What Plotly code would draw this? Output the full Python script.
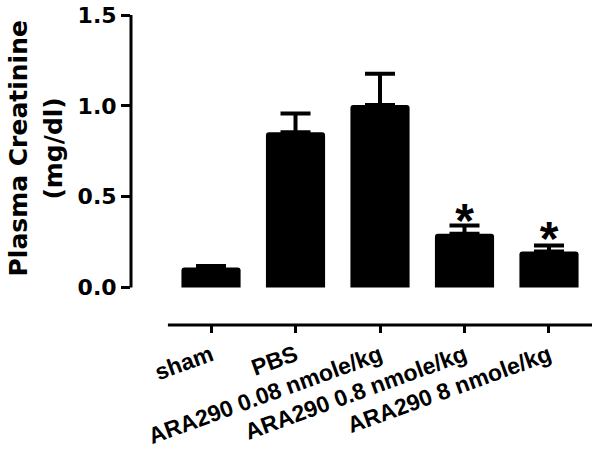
import plotly.graph_objects as go

categories = ["sham", "PBS", "ARA290 0.08 nmole/kg", "ARA290 0.8 nmole/kg", "ARA290 8 nmole/kg"]
means = [0.11, 0.855, 1.005, 0.296, 0.198]
sem = [0.008, 0.103, 0.172, 0.045, 0.033]
sig_labels = ["", "", "", "*", "*"]
sig_y = [None, None, None, 0.345, 0.246]
y_ticks = [0.0, 0.5, 1.0, 1.5]
y_ticklabels = ["0.0", "0.5", "1.0", "1.5"]

idx = list(range(len(categories)))

fig = go.Figure()
fig.add_trace(go.Bar(
    x=idx, y=means, width=0.70,
    marker=dict(color="black", line=dict(width=0), cornerradius=3),
    error_y=dict(type="data", array=sem, arrayminus=[0]*len(sem), symmetric=False,
                 color="black", thickness=4, width=15),
    showlegend=False,
))

sx = [i for i, s in zip(idx, sig_labels) if s]
sy = [v for v, s in zip(sig_y, sig_labels) if s]
st = [s for s in sig_labels if s]
fig.add_trace(go.Scatter(
    x=sx, y=sy, mode="text", text=st, textposition="middle center",
    textfont=dict(family="Liberation Sans", size=48, color="black", weight="bold"),
    showlegend=False, hoverinfo="skip",
))

fig.update_layout(
    width=602, height=450,
    margin=dict(l=131, r=10, t=15, b=125),
    paper_bgcolor="white", plot_bgcolor="white",
    xaxis=dict(range=[-0.947, 4.509], tickmode="array", tickvals=idx, ticktext=categories,
               tickangle=-20, ticks="outside", ticklen=7, tickwidth=3, tickcolor="black",
               showline=False, showgrid=False, zeroline=False, automargin=False,
               tickfont=dict(family="Liberation Sans", size=23, color="black", weight="bold")),
    yaxis=dict(range=[-0.2064, 1.5], tickmode="array", tickvals=y_ticks, ticktext=y_ticklabels,
               ticks="outside", ticklen=9, tickwidth=3, tickcolor="black",
               showline=False, showgrid=False, zeroline=False, automargin=False,
               tickfont=dict(family="DejaVu Sans", size=22, color="black", weight="bold")),
    shapes=[
        dict(type="line", xref="paper", yref="y", x0=0, x1=0, y0=0, y1=1.5,
             line=dict(color="black", width=3)),
        dict(type="line", xref="x", yref="paper", x0=-0.51, x1=4.51, y0=0, y1=0,
             line=dict(color="black", width=3)),
    ],
    annotations=[
        dict(text="Plasma Creatinine", xref="paper", yref="y", x=-0.243, y=0.765,
             xanchor="center", yanchor="middle", textangle=-90, showarrow=False,
             font=dict(family="DejaVu Sans", size=25, color="black", weight="bold")),
        dict(text="(mg/dl)", xref="paper", yref="y", x=-0.169, y=0.765,
             xanchor="center", yanchor="middle", textangle=-90, showarrow=False,
             font=dict(family="DejaVu Sans", size=25, color="black", weight="bold")),
    ],
)

fig.write_html("out.html", config={"displayModeBar": False},
               post_script="document.body.style.margin='0px';document.body.style.overflow='hidden';")
